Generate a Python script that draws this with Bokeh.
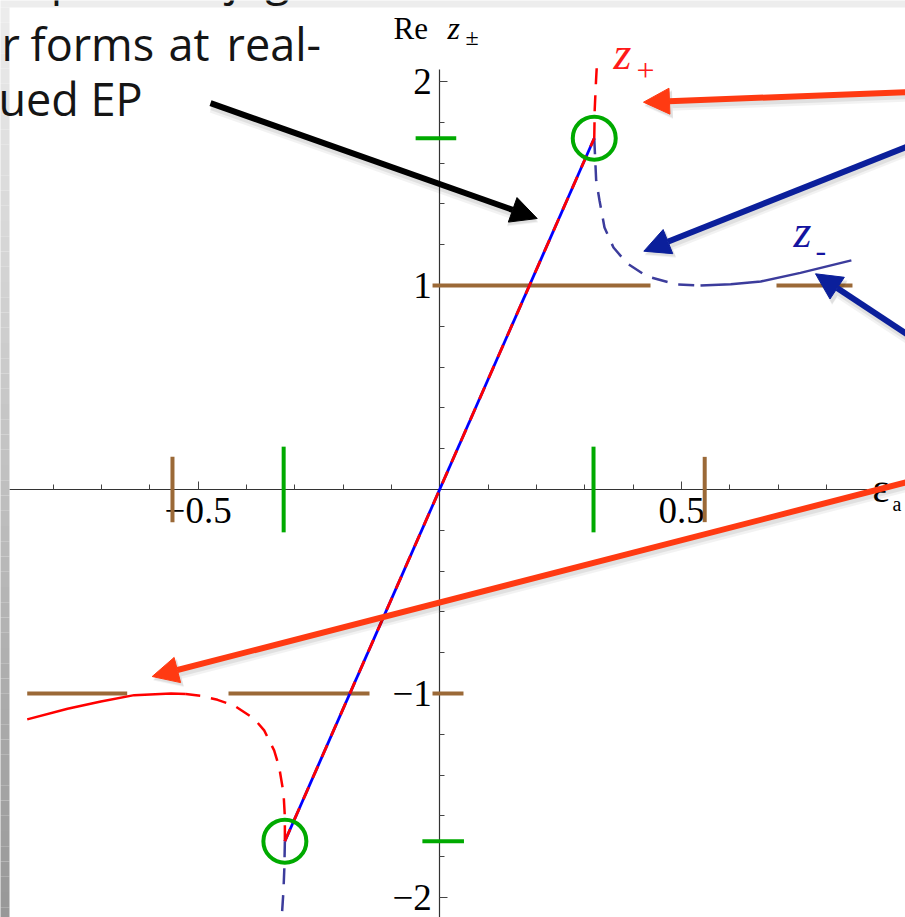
import numpy as np
from bokeh.plotting import figure
from bokeh.models import Range1d, LinearAxis, FixedTicker, Label, Arrow, NormalHead
from bokeh.embed import file_html
from bokeh.resources import INLINE

# ---------------------------------------------------------------- data
# exceptional points (eps, Re z)
ep_eps = [-0.3205, 0.3195]
ep_z = [-1.724, 1.722]

# between the EPs the pair is complex conjugate: Re z+ = Re z-
pair_eps = [-0.3205, 0.3195]
pair_z = [-1.724, 1.722]

# z+ branch above the upper EP (dashed)
zp_up_eps = [0.3195, 0.3205, 0.3232, 0.3252]
zp_up_z = [1.722, 1.866, 2.005, 2.093]

# z+ branch beyond the lower EP: dashed, then solid
zp_dash_eps = [-0.3205, -0.3205, -0.3232, -0.3323, -0.3427, -0.3633, -0.3840,
               -0.4254, -0.4598, -0.4943, -0.5253]
zp_dash_z = [-1.724, -1.606, -1.490, -1.361, -1.279, -1.181, -1.124,
             -1.059, -1.031, -1.011, -1.002]
zp_solid_eps = [-0.5253, -0.556, -0.6322, -0.7011, -0.7700, -0.8535]
zp_solid_z = [-1.002, -1.000, -1.008, -1.039, -1.075, -1.127]

# z- branch beyond the upper EP: dashed, then solid
zm_dash_eps = [0.3195, 0.3235, 0.3304, 0.3407, 0.3593, 0.3877, 0.4290, 0.4911, 0.5393]
zm_dash_z = [1.722, 1.515, 1.417, 1.284, 1.186, 1.108, 1.044, 1.005, 1.000]
zm_solid_eps = [0.5393, 0.6019, 0.6640, 0.7460, 0.8514]
zm_solid_z = [1.000, 1.006, 1.020, 1.062, 1.123]

# z- branch below the lower EP (dashed)
zm_down_eps = [-0.3205, -0.3215, -0.3235, -0.3270]
zm_down_z = [-1.724, -1.850, -1.970, -2.100]

# marks on the axes
ep_tick_eps = [-0.323, 0.318]          # EP positions on the eps axis
ep_tick_z = [-1.724, 1.722]            # EP values on the Re z axis
brown_tick_eps = [-0.553, 0.548]       # touching points on the eps axis
level_z = [1.0, 1.0, -1.0, -1.0, -1.0]  # Re z = +-1 level pieces
level_x0 = [-0.015, 0.6965, -0.8535, -0.4371, -0.0151]
level_x1 = [0.4359, 0.8537, -0.6467, -0.1454, 0.0490]

x_major = [-0.5, 0.5]
x_major_labels = ["\u22120.5", "0.5"]
x_minor = [-0.8, -0.7, -0.6, -0.4, -0.3, -0.2, -0.1, 0.1, 0.2, 0.3, 0.4, 0.6, 0.7, 0.8]
y_major = [-2, -1, 1, 2]
y_major_labels = ["\u22122", "\u22121", "1", "2"]
y_minor = [-2.2, -1.8, -1.6, -1.4, -1.2, -0.8, -0.6, -0.4, -0.2,
           0.2, 0.4, 0.6, 0.8, 1.2, 1.4, 1.6, 1.8]

# ---------------------------------------------------------------- canvas
W, H = 905, 917
X0_PX, X_SCALE = 439.3, 483.4   # pixel of eps = 0, pixels per unit eps
Y0_PX, Y_SCALE = 489.0, 204.0   # pixel of Re z = 0, pixels per unit Re z


def dx(px):
    return (px - X0_PX) / X_SCALE


def dy(py):
    return (Y0_PX - py) / Y_SCALE


p = figure(width=W, height=H,
           x_range=Range1d(dx(0), dx(W)), y_range=Range1d(dy(H), dy(0)),
           output_backend="svg", toolbar_location=None, min_border=0,
           x_axis_location=None, y_axis_location=None,
           background_fill_color="white", border_fill_color="white",
           outline_line_color=None)
p.xgrid.grid_line_color = None
p.ygrid.grid_line_color = None

SERIF = "Liberation Serif"

# slide background around the pasted graphic
p.quad(left=[dx(-5)], right=[dx(W + 5)], top=[dy(-5)], bottom=[dy(7)],
       fill_color="#ededed", line_color=None)
n = 60
edges = np.linspace(7, H + 5, n + 1)
shades = np.linspace(236, 152, n).astype(int)
p.quad(left=[dx(-5)] * n, right=[dx(9)] * n,
       top=[dy(v) for v in edges[:-1]], bottom=[dy(v) for v in edges[1:]],
       fill_color=["#%02x%02x%02x" % (s, s, s) for s in shades], line_color=None)

# axes through the origin
xaxis = LinearAxis(fixed_location=0, ticker=FixedTicker(ticks=x_major, minor_ticks=x_minor),
                   bounds=(dx(9), dx(867)))
xaxis.major_label_overrides = dict(zip(x_major, x_major_labels))
yaxis = LinearAxis(fixed_location=0, ticker=FixedTicker(ticks=y_major, minor_ticks=y_minor),
                   bounds=(dy(H + 30), dy(69)))
yaxis.major_label_overrides = dict(zip(y_major, y_major_labels))
for ax in (xaxis, yaxis):
    ax.axis_line_color = "#333333"
    ax.axis_line_width = 1.2
    ax.major_tick_line_color = "#444444"
    ax.minor_tick_line_color = "#444444"
    ax.major_tick_in = 8
    ax.major_tick_out = 0
    ax.minor_tick_in = 5
    ax.minor_tick_out = 0
    ax.major_label_text_font = SERIF
    ax.major_label_text_font_size = "37px"
    ax.major_label_text_color = "black"
    ax.major_label_standoff = 8
    ax.level = "underlay"
p.add_layout(xaxis, "below")
p.add_layout(yaxis, "left")

# Re z = +-1 levels and the marks on the axes
BROWN = "#9b6937"
GREEN = "#00aa00"
p.segment(x0=level_x0, x1=level_x1, y0=level_z, y1=level_z,
          line_color=BROWN, line_width=4)
p.segment(x0=brown_tick_eps, x1=brown_tick_eps, y0=[0.16] * 2, y1=[-0.16] * 2,
          line_color=BROWN, line_width=4)
p.segment(x0=ep_tick_eps, x1=ep_tick_eps, y0=[0.21] * 2, y1=[-0.21] * 2,
          line_color=GREEN, line_width=4)
p.segment(x0=[-0.036, -0.050], x1=[0.050, 0.034], y0=ep_tick_z, y1=ep_tick_z,
          line_color=GREEN, line_width=4)

# branches
RED = "#ff0000"
SLATE = "#3c3c9c"
DASH = "16 11"
p.line(zp_up_eps, zp_up_z, line_color=RED, line_width=2.5, line_dash=DASH)
p.line(zp_dash_eps, zp_dash_z, line_color=RED, line_width=2.5, line_dash=DASH)
p.line(zp_solid_eps, zp_solid_z, line_color=RED, line_width=2.5)
p.line(zm_dash_eps, zm_dash_z, line_color=SLATE, line_width=2.5, line_dash=DASH)
p.line(zm_solid_eps, zm_solid_z, line_color=SLATE, line_width=2.5)
p.line(zm_down_eps, zm_down_z, line_color=SLATE, line_width=2.5, line_dash=DASH)
p.line(pair_eps, pair_z, line_color="#0000ff", line_width=2.8)
p.line(pair_eps, pair_z, line_color=RED, line_width=2.8, line_dash="13 10")

# exceptional points
p.scatter(ep_eps, ep_z, marker="circle", size=43, fill_color=None,
          line_color=GREEN, line_width=4)


# axis and branch labels (py is the baseline pixel)
def label(px, py, text, size, color="black", style="normal", font=SERIF):
    lift = 0.38 * size
    p.add_layout(Label(x=dx(px), y=dy(py - lift), text=text, text_font=font,
                       text_font_size="%dpx" % size, text_color=color,
                       text_font_style=style,
                       text_baseline="alphabetic", text_align="left"))


label(393, 40, "Re", 31)
label(447, 40, "z", 32, style="italic")
label(465, 46, "\u00b1", 24)
label(613, 70, "z", 46, color="#ff1a1a", style="italic")
label(636, 82, "+", 32, color="#ff1a1a")
label(793, 248, "z", 46, color="#1414a0", style="italic")
label(815, 262, "-", 32, color="#1414a0")
label(872, 503, "\u03b5", 40)
label(892, 511, "a", 20)

# slide text overlapping the graphic, set word by word
SANS = "Open Sans"
INK = "#151515"
label(-40, -6, "complex conjugate", 45, color=INK, font=SANS)
for wx, word in ((1, "r"), (30, "forms"), (168, "at"), (226, "real-")):
    label(wx, 60, word, 45, color=INK, font=SANS)
label(-2, 115, "ued EP", 45, color=INK, font=SANS)


# call-out arrows with a soft shadow
def arrow(x0, y0, x1, y1, color):
    for w, a, off in ((11, 0.05, 4), (8, 0.07, 3)):
        p.add_layout(Arrow(x_start=dx(x0 + 1), y_start=dy(y0 + off),
                           x_end=dx(x1 + 1), y_end=dy(y1 + off),
                           line_color="black", line_alpha=a, line_width=w,
                           end=NormalHead(size=28, fill_color="black", fill_alpha=a,
                                          line_color=None)))
    p.add_layout(Arrow(x_start=dx(x0), y_start=dy(y0), x_end=dx(x1), y_end=dy(y1),
                       line_color=color, line_width=6,
                       end=NormalHead(size=26, fill_color=color, line_color=color,
                                      line_width=1)))


arrow(210, 102.7, 536.7, 218, "black")
arrow(925, 90.9, 643, 101.7, "#ff3a12")
arrow(925, 138.8, 643.3, 250.7, "#0b1f9b")
arrow(925, 346, 815, 273.3, "#0b1f9b")
arrow(925, 476.9, 151.7, 676, "#ff3a12")

open("out.html", "w").write(file_html(p, INLINE))
